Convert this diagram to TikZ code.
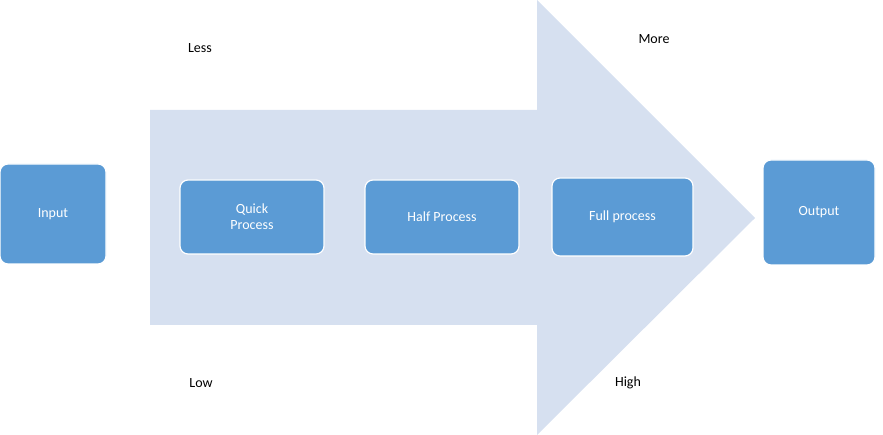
\documentclass[tikz,border=0pt]{standalone}
\usepackage{fontspec}
\setmainfont{Carlito}
\definecolor{arr}{RGB}{214,224,240}
\definecolor{box}{RGB}{91,155,213}
\begin{document}
\begin{tikzpicture}[x=1pt,y=-1pt,
  bx/.style={draw=white,line width=1.2pt,fill=box,rounded corners=8pt,text=white,font=\fontsize{14}{16}\selectfont,align=center,inner sep=0pt},
  lb/.style={font=\fontsize{14}{16}\selectfont,text=black}]
\useasboundingbox (0,0) rectangle (883,435);
\fill[arr] (150,110) -- (537,110) -- (537,0) -- (755,218) -- (537,435) -- (537,325) -- (150,325) -- cycle;
\node[bx,minimum width=106,minimum height=100] (in) at (53,214) {Input};
\node[bx,minimum width=112,minimum height=105] (out) at (819,212.5) {Output};
\node[bx,minimum width=144,minimum height=74] (q) at (252,217) {Quick\\Process};
\node[bx,minimum width=154,minimum height=74] (h) at (442,217) {Half Process};
\node[bx,minimum width=141,minimum height=78] (f) at (622.5,217) {Full process};
\node[lb] (less) at (200,48) {Less};
\node[lb] (more) at (654,39) {More};
\node[lb] (low) at (201,383) {Low};
\node[lb] (high) at (628,383) {High};
\end{tikzpicture}
\end{document}
